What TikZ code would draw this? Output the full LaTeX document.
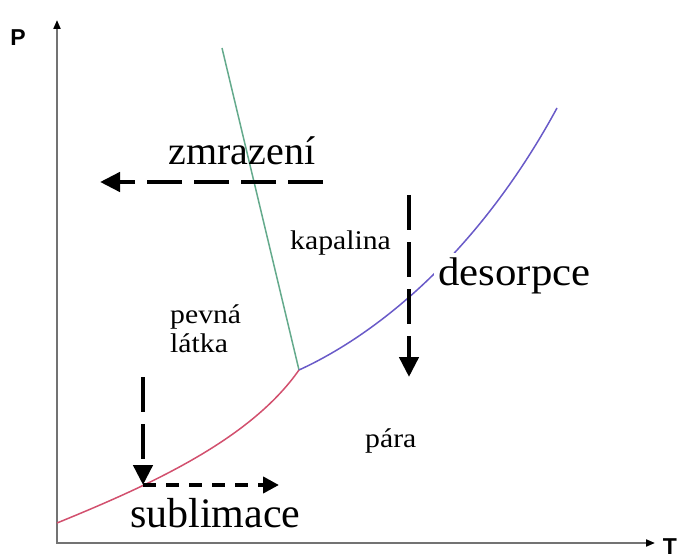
\documentclass[tikz,border=0pt]{standalone}
\usepackage{fontspec}
\setmainfont{Liberation Serif}
\setsansfont{Liberation Sans}
\usetikzlibrary{positioning,arrows.meta}
\definecolor{meltgreen}{RGB}{100,170,140}
\definecolor{vapourblue}{RGB}{105,90,200}
\definecolor{subred}{RGB}{210,80,110}
\definecolor{axisgray}{RGB}{115,115,115}

\begin{document}
\begin{tikzpicture}[x=1pt,y=-1pt,
		axis_line/.style={line width=2pt, axisgray, {Triangle[length=9pt,width=7pt,color=black]}-{Triangle[length=9pt,width=7pt,color=black]}},
		phase_curve/.style={line width=1.5pt},
		process_arrow/.style={line width=4.5pt, dash pattern=on 35pt off 12pt, -{Triangle[length=20pt,width=19pt]}},
		short_arrow/.style={line width=4pt, dash pattern=on 13pt off 10pt, -{Triangle[length=16pt,width=16pt]}},
		phase_label/.style={inner sep=0pt, font=\fontsize{27}{29}\selectfont, xscale=1.1},
		process_label/.style={inner sep=0pt, font=\fontsize{40}{40}\selectfont},
		axis_label/.style={inner sep=0pt, font=\sffamily\bfseries\fontsize{23}{23}\selectfont}
		]
		\useasboundingbox (0,0) rectangle (678,559);
		
		\coordinate (O) at (57,543); \coordinate (p_end) at (57,20); \coordinate (t_end) at (655,543);
		\coordinate (tp) at (299,370); \coordinate (melt_top) at (222,48);
		\coordinate (vap_top) at (557,108); \coordinate (sub_start) at (57,523);
		
		\draw[axis_line] (p_end) -- (O) -- (t_end);
		
		\draw[phase_curve, meltgreen] (tp) -- (melt_top);
		\draw[phase_curve, vapourblue] (tp) .. controls (380,333) and (480,250) .. (vap_top);
		\draw[phase_curve, subred] (sub_start) .. controls (150,485) and (250,440) .. (tp);
		
		\coordinate (frz_a) at (323,182); \coordinate (frz_b) at (100,182);
		\coordinate (des_a) at (409,195); \coordinate (des_b) at (409,377);
		\coordinate (sub_a) at (143,377); \coordinate (sub_b) at (143,485); \coordinate (sub_c) at (279,485);
		
		\draw[process_arrow] (frz_a) -- (frz_b);
		\draw[process_arrow] (sub_a) -- (sub_b);
		\draw[short_arrow] (sub_b) -- (sub_c);
		
		\node[process_label, anchor=base] (zmrazeni) at (242,165) {zmrazení};
		\node[process_label, anchor=base west, xscale=1.07, fill=white, inner sep=4pt] (desorpce) at (434,285) {desorpce};
		\node[process_label, anchor=base west, font=\fontsize{42}{42}\selectfont] (sublimace) at (130,527) {sublimace};
		\draw[process_arrow] (des_a) -- (des_b);
		
		\node[phase_label, anchor=base west] (kapalina) at (290,250) {kapalina};
		\node[phase_label, anchor=north west, align=left] (pevna) at (170,305) {pevná\\látka};
		\node[phase_label, anchor=base west] (para) at (365,447) {pára};
		
		\node[axis_label] (p_label) at (18,38) {P};
		\node[axis_label] (t_label) at (670,547) {T};
	\end{tikzpicture}
\end{document}
